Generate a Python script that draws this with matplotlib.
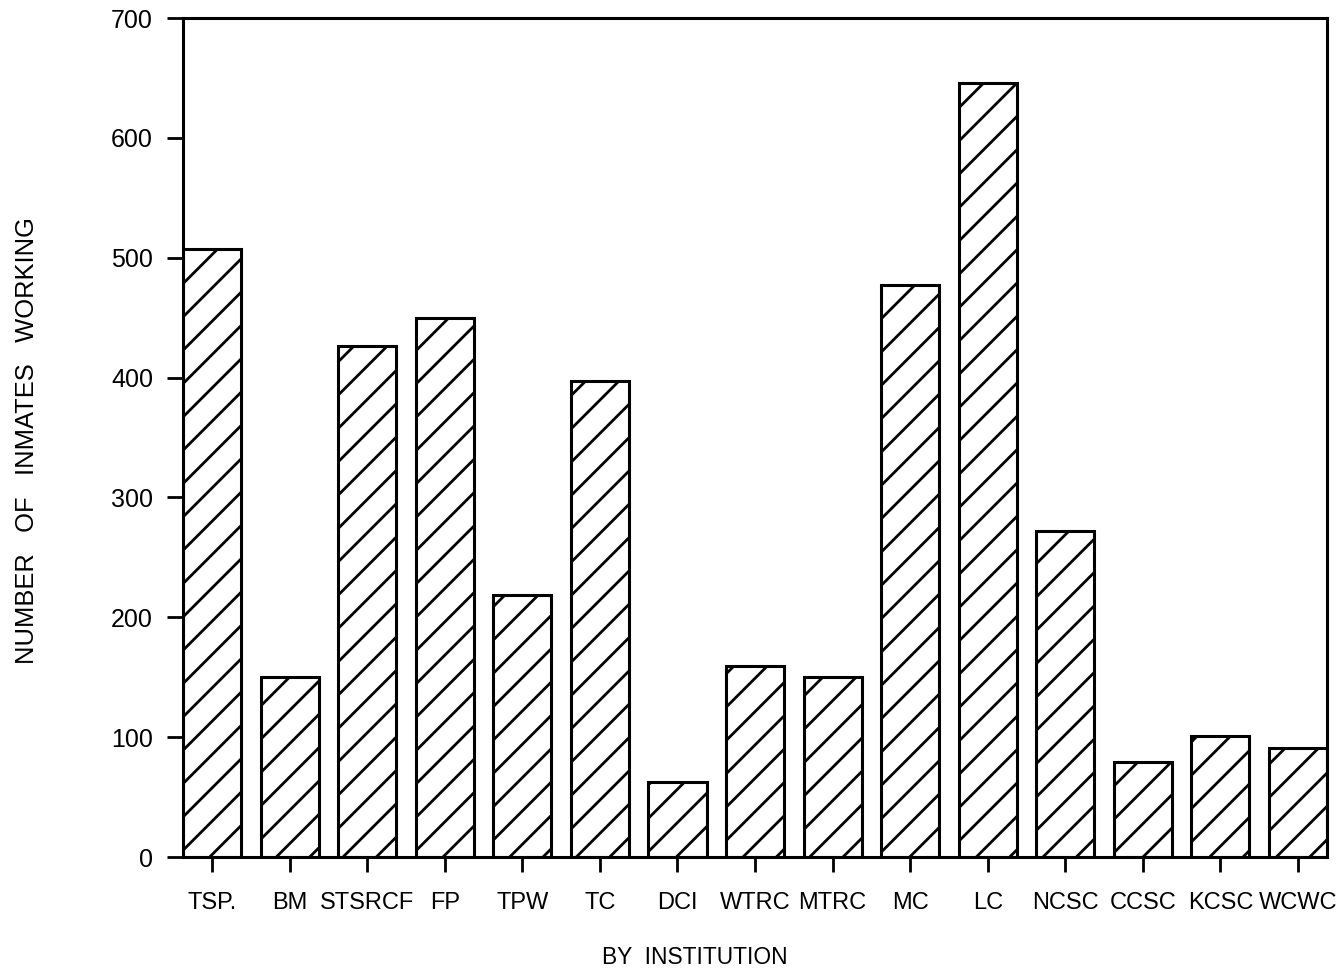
import numpy as np
import matplotlib
matplotlib.use('Agg')
import matplotlib.pyplot as plt

# Numero de internos trabalhando por instituicao
institutions = ['TSP.', 'BM', 'STSRCF', 'FP', 'TPW', 'TC', 'DCI', 'WTRC',
                'MTRC', 'MC', 'LC', 'NCSC', 'CCSC', 'KCSC', 'WCWC']
inmates_working = [507, 150, 426, 450, 219, 397, 63, 159,
                   150, 477, 646, 272, 79, 101, 91]
y_ticks = [0, 100, 200, 300, 400, 500, 600, 700]

plt.rcParams['font.family'] = ['Liberation Sans', 'DejaVu Sans']
plt.rcParams['hatch.linewidth'] = 1.0

fig = plt.figure(figsize=(1341 / 200, 973 / 200), dpi=200)
ax = fig.add_axes([0.1365, 0.1192, 0.8531, 0.8623])

x = np.arange(len(institutions))
ax.bar(x, inmates_working, width=0.75, color='white', edgecolor='black',
       linewidth=1.1, hatch='//')

ax.set_xlim(-0.375, len(institutions) - 0.625)
ax.set_ylim(0, 700)
ax.set_yticks(y_ticks)
ax.set_xticks(x)
ax.set_xticklabels(institutions)

for s in ax.spines.values():
    s.set_linewidth(1.1)

ax.tick_params(axis='x', direction='out', length=5.5, width=1.0, pad=7, labelsize=8.5)
ax.tick_params(axis='y', direction='out', length=5.8, width=1.0, pad=5, labelsize=9)

fig.text(27 / 1341, 1 - 441 / 973, 'NUMBER   OF   INMATES   WORKING', rotation=90,
         ha='center', va='center', fontsize=9.2)
fig.text(695 / 1341, 0.0164, 'BY  INSTITUTION', ha='center', va='center', fontsize=8.2)

fig.savefig('out.png', dpi=200, facecolor='white')
